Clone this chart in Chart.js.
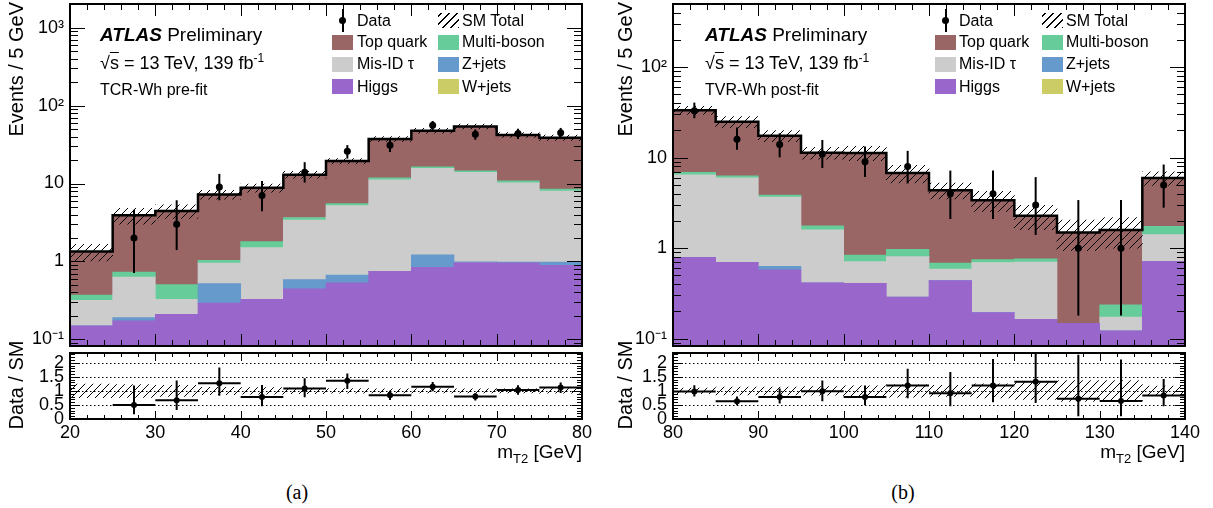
<!DOCTYPE html>
<html lang="en">
<head>
<meta charset="UTF-8">
<title>mT2 in TCR-Wh and TVR-Wh</title>
<style>
    body {
        margin: 0;
        background: #fff;
        font-family: "Liberation Sans", Arial, Helvetica, sans-serif;
        color: #000;
    }
    #page {
        position: relative;
        width: 1213px;
        height: 508px;
        overflow: hidden;
    }
    canvas {
        position: absolute;
    }
    .txt {
        position: absolute;
        white-space: nowrap;
        line-height: 1;
    }
    .atlas { font-size: 19px; }
    .atlas b { font-style: italic; }
    .lumi { font-size: 18px; }
    .region { font-size: 16px; }
    .vtitle {
        position: absolute;
        width: 200px;
        font-size: 20px;
        line-height: 1;
        white-space: nowrap;
        transform-origin: 0 0;
        transform: rotate(-90deg);
    }
    .xtitle {
        position: absolute;
        width: 200px;
        text-align: right;
        font-size: 19px;
        line-height: 1;
        white-space: nowrap;
    }
    .xtitle span {
        font-size: 13px;
        position: relative;
        top: 5px;
    }
    .caption {
        position: absolute;
        width: 60px;
        text-align: center;
        font-family: "Liberation Serif", "Times New Roman", serif;
        font-size: 20px;
        line-height: 1;
    }
    .leg {
        position: absolute;
        font-size: 16px;
        line-height: 1;
        white-space: nowrap;
    }
    .sw {
        position: absolute;
        width: 21px;
        height: 15px;
    }
</style>
</head>
<body>
<div id="page">
    <canvas id="mainA" width="600" height="350" style="left:0;top:0"></canvas>
    <canvas id="ratioA" width="600" height="100" style="left:0;top:349px"></canvas>
    <canvas id="mainB" width="611" height="350" style="left:602px;top:0"></canvas>
    <canvas id="ratioB" width="611" height="100" style="left:602px;top:349px"></canvas>

    <div class="txt atlas" style="left:100px;top:25px"><b>ATLAS</b> Preliminary</div>
    <div class="txt lumi" style="left:100px;top:54px">&radic;<span style="text-decoration:overline">s</span> = 13 TeV, 139 fb<span style="font-size:12px;position:relative;top:-7px">-1</span></div>
    <div class="txt region" style="left:100px;top:82px">TCR-Wh pre-fit</div>

    <div class="txt atlas" style="left:705px;top:25px"><b>ATLAS</b> Preliminary</div>
    <div class="txt lumi" style="left:705px;top:54px">&radic;<span style="text-decoration:overline">s</span> = 13 TeV, 139 fb<span style="font-size:12px;position:relative;top:-7px">-1</span></div>
    <div class="txt region" style="left:705px;top:82px">TVR-Wh post-fit</div>

    <div class="vtitle" style="left:6px;top:202px;text-align:right">Events / 5 GeV</div>
    <div class="vtitle" style="left:6px;top:485px;text-align:center">Data / SM</div>
    <div class="vtitle" style="left:615px;top:202px;text-align:right">Events / 5 GeV</div>
    <div class="vtitle" style="left:615px;top:485px;text-align:center">Data / SM</div>

    <div class="xtitle" style="left:382px;top:442px">m<span>T2</span> [GeV]</div>
    <div class="xtitle" style="left:985px;top:442px">m<span>T2</span> [GeV]</div>

    <div class="caption" style="left:267px;top:482px">(a)</div>
    <div class="caption" style="left:873px;top:482px">(b)</div>
</div>

<script src="https://cdn.jsdelivr.net/npm/chart.js"></script>
<script>
    // ---- data ------------------------------------------------------------
    const binWidth = 5;

    // (a) TCR-Wh pre-fit, m_T2 20-80 GeV
    const centersA = [22.5, 27.5, 32.5, 37.5, 42.5, 47.5, 52.5, 57.5, 62.5, 67.5, 72.5, 77.5];
    const wjetsA      = [0, 0, 0, 0, 0, 0, 0, 0, 0, 0, 0, 0];
    const higgsA      = [0.149, 0.173, 0.21, 0.292, 0.326, 0.445, 0.531, 0.746, 0.839, 0.97, 0.96, 0.89];
    const zjetsA      = [0, 0.017, 0, 0.228, 0, 0.14, 0.139, 0, 0.38, 0.02, 0.02, 0.09];
    const misidA      = [0.167, 0.442, 0.116, 0.433, 1.18, 2.81, 4.53, 10.45, 14.48, 12.9, 9.22, 7.02];
    const multibosonA = [0.054, 0.099, 0.179, 0.077, 0.29, 0.27, 0.32, 0.6, 0.7, 0.7, 0.6, 0.47];
    const topA        = [0.97, 3.19, 3.95, 6.22, 7.01, 9.34, 13.9, 25.5, 31.3, 39.5, 31.2, 30.3];
    const uncA        = [0.24, 0.23, 0.2, 0.13, 0.12, 0.1, 0.08, 0.07, 0.07, 0.07, 0.07, 0.08];
    const dataA   = [null, 2, 3, 9, 7, 14, 26, 31, 56, 43, 44, 45];
    const dataLoA = [null, 0.71, 1.4, 6.1, 4.4, 10.3, 20.9, 25.4, 48.5, 36.4, 37.4, 38.3];
    const dataHiA = [null, 4.6, 6.1, 13.3, 10.8, 18.8, 31.1, 36.6, 63.5, 49.6, 50.6, 51.7];
    const ratioA   = [null, 0.5, 0.67, 1.27, 0.78, 1.09, 1.36, 0.85, 1.15, 0.8, 1.03, 1.12];
    const ratioLoA = [null, 0.17, 0.32, 0.83, 0.45, 0.77, 1.07, 0.68, 0.99, 0.66, 0.86, 0.93];
    const ratioHiA = [null, 1.19, 1.37, 1.83, 1.21, 1.45, 1.62, 1.01, 1.32, 0.93, 1.2, 1.3];

    // (b) TVR-Wh post-fit, m_T2 80-140 GeV
    const centersB = [82.5, 87.5, 92.5, 97.5, 102.5, 107.5, 112.5, 117.5, 122.5, 127.5, 132.5, 137.5];
    const wjetsB      = [0, 0, 0, 0, 0, 0, 0, 0, 0, 0, 0, 0];
    const higgsB      = [0.79, 0.697, 0.578, 0.413, 0.41, 0.288, 0.438, 0.194, 0.164, 0.148, 0.122, 0.714];
    const zjetsB      = [0, 0, 0.051, 0, 0, 0, 0, 0, 0, 0, 0, 0];
    const misidB      = [5.69, 5.31, 3.03, 1.18, 0.3, 0.52, 0.15, 0.5, 0.54, 0, 0.051, 0.7];
    const multibosonB = [0.4, 0.31, 0.19, 0.17, 0.13, 0.165, 0.097, 0.054, 0.057, 0, 0.064, 0.33];
    const topB        = [26.6, 18.6, 13.65, 9.54, 10.45, 5.79, 3.68, 2.64, 1.52, 1.34, 1.35, 4.22];
    const uncB        = [0.1, 0.14, 0.14, 0.15, 0.18, 0.22, 0.2, 0.25, 0.3, 0.37, 0.37, 0.17];
    const dataB   = [33, 16, 14, 11, 9, 8, 4, 4, 3, 1, 1, 5];
    const dataLoB = [27.3, 12.2, 10.1, 7.7, 6.1, 5.2, 2.1, 2.1, 1.4, 0.18, 0.18, 2.8];
    const dataHiB = [40.6, 21.6, 18.6, 15.7, 13.3, 11.9, 7.2, 7.2, 6.1, 3.4, 3.4, 8.4];
    const ratioB   = [0.98, 0.63, 0.78, 0.99, 0.78, 1.19, 0.92, 1.19, 1.33, 0.72, 0.64, 0.84];
    const ratioLoB = [0.8, 0.49, 0.55, 0.63, 0.49, 0.74, 0.45, 0.6, 0.57, 0.1, 0.1, 0.45];
    const ratioHiB = [1.2, 0.8, 1.09, 1.37, 1.19, 1.79, 1.67, 2.14, 2.45, 2.29, 2.12, 1.42];

    // axes
    const xTicksA = [20, 30, 40, 50, 60, 70, 80];
    const xTicksB = [80, 90, 100, 110, 120, 130, 140];
    const logTickValues = [0.1, 1, 10, 100, 1000];
    const logTickLabels = ['10\u207B\u00B9', '1', '10', '10\u00B2', '10\u00B3'];
    const ratioTicks = [0, 0.5, 1, 1.5, 2];

    const legendLabels = ['Data', 'SM Total', 'Top quark', 'Multi-boson', 'Mis-ID \u03C4', 'Z+jets', 'Higgs', 'W+jets'];

    // ---- styling ----------------------------------------------------------
    const colors = {
        top: '#996565',
        multiboson: '#66cc99',
        misid: '#cccccc',
        zjets: '#6699cc',
        higgs: '#9966cc',
        wjets: '#cccc66'
    };

    Chart.defaults.font.family = '"Liberation Sans", Arial, Helvetica, sans-serif';
    Chart.defaults.color = '#000';

    function makeHatch() {
        const c = document.createElement('canvas');
        c.width = 8;
        c.height = 8;
        const g = c.getContext('2d');
        g.strokeStyle = '#000';
        g.lineWidth = 1;
        g.beginPath();
        g.moveTo(0, 8); g.lineTo(8, 0);
        g.moveTo(-2, 2); g.lineTo(2, -2);
        g.moveTo(6, 10); g.lineTo(10, 6);
        g.stroke();
        return g.createPattern(c, 'repeat');
    }
    const hatch = makeHatch();

    // frame, inward ROOT-style ticks, dotted reference lines
    const rootFrame = {
        id: 'rootFrame',
        beforeDatasetsDraw(chart, args, o) {
            if (!o.dotted) return;
            const { ctx, chartArea: a, scales: { y } } = chart;
            ctx.save();
            ctx.strokeStyle = '#000';
            ctx.lineWidth = 1;
            ctx.setLineDash([1.5, 2.5]);
            o.dotted.forEach(v => {
                const py = Math.round(y.getPixelForValue(v)) + 0.5;
                ctx.beginPath();
                ctx.moveTo(a.left, py);
                ctx.lineTo(a.right, py);
                ctx.stroke();
            });
            ctx.restore();
        },
        afterDraw(chart, args, o) {
            const { ctx, chartArea: a, scales: { x, y } } = chart;
            ctx.save();
            ctx.strokeStyle = '#000';
            ctx.lineWidth = 1;
            ctx.beginPath();
            const nx = Math.round((x.max - x.min) / o.xMinor);
            for (let k = 0; k <= nx; k++) {
                const v = x.min + k * o.xMinor;
                const major = Math.abs(v / o.xMajor - Math.round(v / o.xMajor)) < 1e-6;
                const len = major ? o.xMaj : o.xMin;
                const px = Math.round(x.getPixelForValue(v)) + 0.5;
                ctx.moveTo(px, a.bottom); ctx.lineTo(px, a.bottom - len);
                ctx.moveTo(px, a.top); ctx.lineTo(px, a.top + len);
            }
            const yVals = [];
            if (y.type === 'logarithmic') {
                for (let e = Math.floor(Math.log10(y.min)); e <= Math.ceil(Math.log10(y.max)); e++) {
                    for (let m = 1; m <= 9; m++) {
                        const v = m * Math.pow(10, e);
                        if (v >= y.min && v <= y.max) yVals.push([v, m === 1]);
                    }
                }
            } else {
                const ny = Math.floor((y.max - y.min) / o.yMinor + 1e-6);
                for (let k = 0; k <= ny; k++) {
                    const v = y.min + k * o.yMinor;
                    yVals.push([v, Math.abs(v / o.yMajor - Math.round(v / o.yMajor)) < 1e-6]);
                }
            }
            yVals.forEach(([v, major]) => {
                const len = major ? o.yMaj : o.yMin;
                const py = Math.round(y.getPixelForValue(v)) + 0.5;
                ctx.moveTo(a.left, py); ctx.lineTo(a.left + len, py);
                ctx.moveTo(a.right, py); ctx.lineTo(a.right - len, py);
            });
            ctx.stroke();
            ctx.lineWidth = 2;
            ctx.strokeRect(a.left, a.top, a.right - a.left, a.bottom - a.top);
            ctx.restore();
        }
    };

    // vertical (and optional horizontal) error bars for the data points
    const errorBars = {
        id: 'errorBars',
        afterDatasetsDraw(chart) {
            const { ctx, chartArea: a, scales: { x, y } } = chart;
            ctx.save();
            ctx.beginPath();
            ctx.rect(a.left, a.top, a.right - a.left, a.bottom - a.top);
            ctx.clip();
            ctx.strokeStyle = '#000';
            ctx.lineWidth = 2;
            chart.data.datasets.forEach((ds, i) => {
                if (!ds.errorBars) return;
                const meta = chart.getDatasetMeta(i);
                meta.data.forEach((pt, j) => {
                    const raw = ds.data[j];
                    ctx.beginPath();
                    ctx.moveTo(pt.x, y.getPixelForValue(raw.hi));
                    ctx.lineTo(pt.x, y.getPixelForValue(raw.lo));
                    if (ds.xHalf) {
                        ctx.moveTo(x.getPixelForValue(raw.x - ds.xHalf), pt.y);
                        ctx.lineTo(x.getPixelForValue(raw.x + ds.xHalf), pt.y);
                    }
                    ctx.stroke();
                });
            });
            ctx.restore();
        }
    };

    function points(centers, vals, lo, hi) {
        const out = [];
        centers.forEach((c, i) => {
            if (vals[i] !== null) out.push({ x: c, y: vals[i], lo: lo[i], hi: hi[i] });
        });
        return out;
    }

    function xScale(min, max, ticks, show) {
        return {
            type: 'linear', min: min, max: max, offset: false, stacked: true, display: show,
            grid: { display: false, drawTicks: false },
            border: { display: false },
            afterBuildTicks: s => { s.ticks = ticks.map(v => ({ value: v })); },
            ticks: { autoSkip: false, maxRotation: 0, minRotation: 0, padding: 5, font: { size: 18, lineHeight: 1 } },
            afterFit: s => { s.height = show ? 30 : 0; s.paddingLeft = 0; s.paddingRight = 0; }
        };
    }

    function buildMain(id, p) {
        const total = p.centers.map((c, i) => p.layers.reduce((s, L) => s + L.values[i], 0));
        const cum = p.centers.map(() => 0);
        const stack = p.layers.map((L, k) => ({
            type: 'bar',
            label: L.name,
            data: p.centers.map((c, i) => {
                const lo = cum[i];
                cum[i] = lo + L.values[i];
                return { x: c, y: [Math.max(lo, 1e-4), Math.max(cum[i], 1e-4)] };
            }),
            backgroundColor: L.color,
            borderWidth: 0,
            barPercentage: 1,
            categoryPercentage: 1,
            order: 10 + k
        }));
        const half = binWidth / 2;
        const outline = p.centers.map((c, i) => ({ x: c - half, y: total[i] }));
        outline.push({ x: p.centers[p.centers.length - 1] + half, y: total[total.length - 1] });

        return new Chart(document.getElementById(id), {
            type: 'bar',
            data: {
                datasets: [
                    {
                        type: 'line', label: 'Data', data: points(p.centers, p.data, p.lo, p.hi),
                        showLine: false, pointRadius: 3.5, pointBackgroundColor: '#000', pointBorderWidth: 0,
                        errorBars: true, order: 0
                    },
                    {
                        type: 'line', label: 'SM Total', data: outline, stepped: true,
                        borderColor: '#000', borderWidth: 2.5, pointRadius: 0, fill: false, order: 1
                    },
                    {
                        type: 'bar', label: 'SM unc.',
                        data: p.centers.map((c, i) => ({ x: c, y: [total[i] * (1 - p.unc[i]), total[i] * (1 + p.unc[i])] })),
                        backgroundColor: hatch, borderWidth: 0, barPercentage: 1, categoryPercentage: 1, order: 2
                    }
                ].concat(stack)
            },
            options: {
                responsive: false,
                animation: false,
                layout: { padding: { top: 2, right: p.padRight, bottom: 3, left: 0 } },
                plugins: {
                    legend: { display: false },
                    tooltip: { enabled: false },
                    rootFrame: { xMinor: 2, xMajor: 10, xMaj: 12, xMin: 6, yMaj: 15, yMin: 8 }
                },
                scales: {
                    x: xScale(p.xMin, p.xMax, p.xTicks, false),
                    y: {
                        type: 'logarithmic', min: p.yMin, max: p.yMax, beginAtZero: false,
                        grid: { display: false, drawTicks: false },
                        border: { display: false },
                        afterBuildTicks: s => {
                            s.ticks = logTickValues.filter(v => v >= p.yMin && v <= p.yMax).map(v => ({ value: v }));
                        },
                        ticks: {
                            autoSkip: false, padding: 6, font: { size: 18, lineHeight: 1 },
                            callback: v => logTickLabels[logTickValues.indexOf(v)]
                        },
                        afterFit: s => { s.width = p.yWidth; s.paddingTop = 0; s.paddingBottom = 0; }
                    }
                }
            },
            plugins: [rootFrame, errorBars]
        });
    }

    function buildRatio(id, p) {
        return new Chart(document.getElementById(id), {
            type: 'bar',
            data: {
                datasets: [
                    {
                        type: 'line', label: 'Data / SM', data: points(p.centers, p.ratio, p.lo, p.hi),
                        showLine: false, pointRadius: 3, pointBackgroundColor: '#000', pointBorderWidth: 0,
                        errorBars: true, xHalf: binWidth / 2, order: 0
                    },
                    {
                        type: 'bar', label: 'SM unc.',
                        data: p.centers.map((c, i) => ({ x: c, y: [1 - p.unc[i], 1 + p.unc[i]] })),
                        backgroundColor: hatch, borderWidth: 0, barPercentage: 1, categoryPercentage: 1, order: 1
                    }
                ]
            },
            options: {
                responsive: false,
                animation: false,
                layout: { padding: { top: 3, right: p.padRight, bottom: 0, left: 0 } },
                plugins: {
                    legend: { display: false },
                    tooltip: { enabled: false },
                    rootFrame: {
                        xMinor: 2, xMajor: 10, xMaj: 8, xMin: 4,
                        yMinor: 0.1, yMajor: 0.5, yMaj: 10, yMin: 5,
                        dotted: [0.5, 1, 1.5, 2]
                    }
                },
                scales: {
                    x: xScale(p.xMin, p.xMax, p.xTicks, true),
                    y: {
                        type: 'linear', min: 0, max: 2.35, beginAtZero: true,
                        grid: { display: false, drawTicks: false },
                        border: { display: false },
                        afterBuildTicks: s => { s.ticks = ratioTicks.map(v => ({ value: v })); },
                        ticks: { autoSkip: false, padding: 6, font: { size: 18, lineHeight: 1 }, callback: v => String(v) },
                        afterFit: s => { s.width = p.yWidth; s.paddingTop = 0; s.paddingBottom = 0; }
                    }
                }
            },
            plugins: [rootFrame, errorBars]
        });
    }

    function layers(w, h, z, m, mb, t) {
        return [
            { name: 'W+jets', values: w, color: colors.wjets },
            { name: 'Higgs', values: h, color: colors.higgs },
            { name: 'Z+jets', values: z, color: colors.zjets },
            { name: 'Mis-ID \u03C4', values: m, color: colors.misid },
            { name: 'Multi-boson', values: mb, color: colors.multiboson },
            { name: 'Top quark', values: t, color: colors.top }
        ];
    }

    buildMain('mainA', {
        centers: centersA, layers: layers(wjetsA, higgsA, zjetsA, misidA, multibosonA, topA),
        unc: uncA, data: dataA, lo: dataLoA, hi: dataHiA,
        xMin: 20, xMax: 80, xTicks: xTicksA, yMin: 0.0822, yMax: 2014, yWidth: 70, padRight: 18
    });
    buildRatio('ratioA', {
        centers: centersA, unc: uncA, ratio: ratioA, lo: ratioLoA, hi: ratioHiA,
        xMin: 20, xMax: 80, xTicks: xTicksA, yWidth: 70, padRight: 18
    });
    buildMain('mainB', {
        centers: centersB, layers: layers(wjetsB, higgsB, zjetsB, misidB, multibosonB, topB),
        unc: uncB, data: dataB, lo: dataLoB, hi: dataHiB,
        xMin: 80, xMax: 140, xTicks: xTicksB, yMin: 0.083, yMax: 499, yWidth: 71, padRight: 28
    });
    buildRatio('ratioB', {
        centers: centersB, unc: uncB, ratio: ratioB, lo: ratioLoB, hi: ratioHiB,
        xMin: 80, xMax: 140, xTicks: xTicksB, yWidth: 71, padRight: 28
    });

    // ---- legends (two columns, four rows) ---------------------------------
    const legendKinds = ['data', 'hatch', colors.top, colors.multiboson, colors.misid, colors.zjets, colors.higgs, colors.wjets];
    function buildLegend(pos) {
        const page = document.getElementById('page');
        legendLabels.forEach((label, i) => {
            const col = i % 2;
            const cy = pos.rows[Math.floor(i / 2)];
            const swLeft = pos.swatch[col];
            const kind = legendKinds[i];
            const sw = document.createElement('div');
            sw.className = 'sw';
            sw.style.left = swLeft + 'px';
            sw.style.top = (cy - 7.5) + 'px';
            if (kind === 'data') {
                sw.innerHTML = '<div style="position:absolute;left:9.5px;top:-4px;width:2px;height:23px;background:#000"></div>' +
                    '<div style="position:absolute;left:7px;top:4px;width:7px;height:7px;border-radius:50%;background:#000"></div>';
            } else if (kind === 'hatch') {
                sw.style.background = 'repeating-linear-gradient(-45deg, #000 0 1px, transparent 1px 5.6px)';
            } else {
                sw.style.background = kind;
            }
            page.appendChild(sw);
            const t = document.createElement('div');
            t.className = 'leg';
            t.textContent = label;
            t.style.left = pos.text[col] + 'px';
            t.style.top = (cy - 7.8) + 'px';
            page.appendChild(t);
        });
    }
    buildLegend({ rows: [20.5, 42, 64, 86.5], swatch: [332, 438], text: [357, 462] });
    buildLegend({ rows: [20.5, 42, 64, 86.5], swatch: [935, 1042], text: [959, 1066] });
</script>
</body>
</html>
